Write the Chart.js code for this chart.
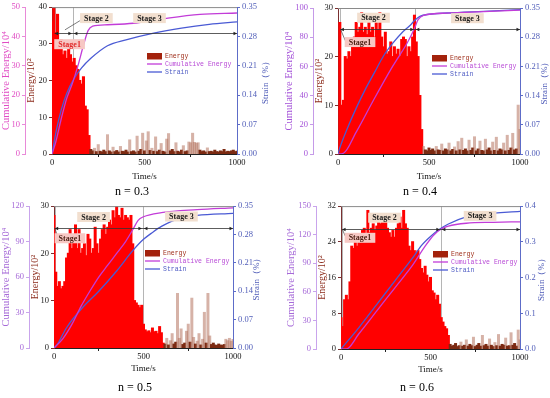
<!DOCTYPE html>
<html lang="en">
<head>
<meta charset="UTF-8">
<title>Energy, cumulative energy and strain</title>
<script src="https://cdn.jsdelivr.net/npm/chart.js"></script>
<style>
  body { margin: 0; background: #fff; }
  #wrap { position: relative; width: 550px; height: 398px; overflow: hidden; }
  .panel { position: absolute; width: 275px; height: 199px; }
  .nlab { position: absolute; font-family: 'Liberation Serif', serif; font-size: 12px; color: #000;
          transform: translate(-50%, -50%); white-space: nowrap; }
</style>
</head>
<body>
<div id="wrap">
  <div class="panel" style="left:0;top:0"><canvas id="c1" width="275" height="199"></canvas></div>
  <div class="panel" style="left:275px;top:0"><canvas id="c2" width="275" height="199"></canvas></div>
  <div class="panel" style="left:0;top:199px"><canvas id="c3" width="275" height="199"></canvas></div>
  <div class="panel" style="left:275px;top:199px"><canvas id="c4" width="275" height="199"></canvas></div>
  <div class="nlab" style="left:132px;top:191px">n = 0.3</div>
  <div class="nlab" style="left:420px;top:191px">n = 0.4</div>
  <div class="nlab" style="left:135px;top:387px">n = 0.5</div>
  <div class="nlab" style="left:417px;top:387px">n = 0.6</div>
</div>
<script>
// energy bins (s)
const binTimes = [0,10,20,30,40,50,60,70,80,90,100,110,120,130,140,150,160,170,180,190,
  200,210,220,230,240,250,260,270,280,290,300,310,320,330,340,350,360,370,380,390,
  400,410,420,430,440,450,460,470,480,490,500,510,520,530,540,550,560,570,580,590,
  600,610,620,630,640,650,660,670,680,690,700,710,720,730,740,750,760,770,780,790,
  800,810,820,830,840,850,860,870,880,890,900,910,920,930,940,950,960,970,980,990,1000];

// Energy /10^2
const energy03 = [36,40,33,38,29,31,27,28,26,29, 27,25,26,24,23,20,19,21,13,12,
  5,1.2,0.8,1.5,0.6,2.5,0.7,0.5,1.0,0.6, 5.2,0.8,0.5,1.8,0.6,0.9,0.5,2.0,0.7,0.6,
  1.0,0.5,3.8,0.6,0.8,0.5,4.8,0.7,1.2,5.6, 0.8,3.5,6.0,0.9,1.5,0.7,4.6,0.6,1.0,2.8,
  0.7,0.5,4.0,5.5,0.8,1.2,0.6,3.0,0.7,0.5, 1.0,2.2,0.6,0.8,3.2,3.0,5.6,3.1,2.9,3.0,
  1.0,0.6,0.8,0.5,1.6,0.6,0.7,0.5,1.0,0.6, 0.5,0.8,0.6,1.2,0.5,0.7,0.6,0.8,1.0,0.6, 0.7];
const energy04 = [1.5,27,10,11,20,19.5,21,20,22,24, 27,25,26,29,25,26,24.5,28,25,26,
  24,27,25.5,29,24,22,25,20.5,21,23, 20,22,20.5,21.5,20,23.5,24,23.5,20,22,
  21,24,28.5,23,20,12,5,1.5,0.8,0.6, 1.2,0.7,1.0,0.6,1.5,0.8,0.7,2.0,0.6,1.0,
  0.8,2.2,0.6,0.9,1.4,0.6,2.5,0.8,3.2,0.7, 1.0,0.6,2.8,0.7,1.2,3.5,0.6,1.0,2.6,0.7,
  0.6,3.0,0.8,1.2,0.6,2.4,0.7,3.4,0.6,1.0, 0.8,2.2,0.6,3.8,0.7,1.2,4.2,0.8,1.0,10, 5];
const energy05 = [28,16,13,14,12.5,13,14,19,20,25, 21,24,26,21,25,20,21,22,19.5,24,
  23,20,21,25.5,22,20,23,25,26,24, 25.5,27,26,29,27.5,30,28,27.5,29.5,27,
  28,27.5,27,28,22,10,9.5,9,8.5,9, 5,3.8,3.4,3.6,3.2,4.2,3.4,3.5,3.0,4.5,
  3.2,1.0,0.8,2.0,0.6,1.5,3.0,0.8,1.2,11.5, 2.0,4.0,0.7,1.0,3.5,5.0,1.2,10.5,2.2,0.8,
  1.4,3.0,0.6,1.8,7.5,1.0,11.5,2.5,0.7,1.0, 0.6,0.5,0.8,0.6,0.5,0.7,1.8,1.5,2.0,1.4, 1.8];
const energy06 = [7,5,11,12,11,15,23,22.5,24,23, 25,24,26.5,27,25,31,26,27,28,26.5,
  27.5,29,28,30,28.5,29,27,26,25,26.5, 25,27,28,29.5,27,31,28,27,23,22,
  24,22,21.5,22,20,18,17,18.5,16.5,15, 16,13,12.5,11,12,10,7,6,5,4.5,
  3,1.0,0.6,0.8,1.2,0.5,0.7,1.5,0.6,0.8, 2.0,0.6,1.0,0.7,2.6,0.5,0.8,1.2,0.6,3.0,
  0.7,1.0,0.6,2.2,0.8,0.5,1.4,0.7,3.2,0.6, 1.0,0.8,2.4,0.6,0.7,3.6,0.8,1.2,0.6,4.2, 2.0];

// Cumulative energy /10^4
const cumT03 = [0,20,50,80,110,140,170,195,220,300,440,600,800,1000];
const cum03 = [0,4,12,19,24,30,37,42,43.5,44,44.5,46,47.5,48];
const cumT04 = [0,30,100,200,300,380,420,440,470,600,800,1000];
const cum04 = [0,0.5,15,38,60,76,86,92,95,96.5,97.5,98.5];
const cumT05 = [0,50,100,150,200,250,300,350,400,440,470,500,600,800,1000];
const cum05 = [0,8,20,35,48,60,70,80,90,100,108,111,114.5,117,118.5];
const cumT06 = [0,30,100,200,300,400,470,520,560,600,700,850,1000];
const cum06 = [0,0,16,40,64,88,108,120,126,129,132,133,133.5];

// Strain (%)
const strainT03 = [0,25,50,80,120,160,210,300,400,550,700,850,1000];
const strain03 = [0,0.06,0.105,0.145,0.18,0.205,0.228,0.258,0.272,0.288,0.3,0.309,0.315];
const strainT04 = [0,10,50,100,150,200,250,300,350,400,420,450,500,600,800,1000];
const strain04 = [0,0.015,0.06,0.11,0.155,0.195,0.235,0.265,0.29,0.31,0.32,0.33,0.335,0.338,0.342,0.346];
const strainT05 = [0,20,70,150,250,350,440,500,550,600,700,800,1000];
const strain05 = [0,0.01,0.05,0.095,0.14,0.19,0.24,0.268,0.285,0.3,0.32,0.327,0.332];
const strainT06 = [0,100,200,300,400,450,500,550,600,700,800,1000];
const strain06 = [0,0.06,0.125,0.19,0.255,0.29,0.315,0.335,0.35,0.37,0.378,0.385];

// tick values
const timeTicks = [0,500,1000];
const energyTicks03 = [0,10,20,30,40];
const energyTicks04 = [0,10,20,30];
const energyTicks05 = [0,10,20,30];
const energyTicks06 = [0,8,16,24,32];
const cumTicks03 = [0,10,20,30,40,50];
const cumTicks04 = [0,20,40,60,80,100];
const cumTicks05 = [0,30,60,90,120];
const cumTicks06 = [0,30,60,90,120,150];
const strainTicks = [0,0.07,0.14,0.21,0.28,0.35];
const strainTicks06 = [0,0.1,0.2,0.3,0.4];

// stage boundaries (s)
const stages03 = [14,113];
const stages04 = [13,422];
const stages05 = [4,497];
const stages06 = [6,558];

const SERIF = 'Liberation Serif';
const cumColor = '#c23cd8';
const strainColor = '#4a5ad4';
const strainAxis = '#5d6cc8';

function pts(ts, vs) { return ts.map((t, i) => ({ x: t, y: vs[i] })); }

function arrowHead(ctx, x, y, dir) {
  ctx.beginPath();
  ctx.moveTo(x, y);
  ctx.lineTo(x - dir * 3.5, y - 1.8);
  ctx.lineTo(x - dir * 3.5, y + 1.8);
  ctx.closePath();
  ctx.fill();
}

function stageBox(ctx, cx, cy, text, bg, fg) {
  ctx.font = 'bold 8px "' + SERIF + '"';
  const w = ctx.measureText(text).width + 8, h = 10;
  ctx.fillStyle = bg;
  ctx.fillRect(cx - w / 2, cy - h / 2, w, h);
  ctx.fillStyle = fg;
  ctx.textAlign = 'center';
  ctx.textBaseline = 'middle';
  ctx.fillText(text, cx, cy + 0.5);
}

const stagePlugin = {
  id: 'stages',
  beforeDatasetsDraw(chart, args, o) {
    const { ctx, chartArea: a, scales: { x } } = chart;
    ctx.save();
    ctx.strokeStyle = '#b5b5b5';
    ctx.lineWidth = 1;
    o.bounds.forEach(t => {
      const px = Math.round(x.getPixelForValue(t)) + 0.5;
      ctx.beginPath(); ctx.moveTo(px, a.top); ctx.lineTo(px, a.bottom); ctx.stroke();
    });
    ctx.restore();
  },
  afterDatasetsDraw(chart, args, o) {
    const { ctx, chartArea: a, scales: { x, y } } = chart;
    ctx.save();
    // top frame
    ctx.strokeStyle = '#8a8a8a'; ctx.lineWidth = 1;
    ctx.beginPath(); ctx.moveTo(a.left, a.top + 0.5); ctx.lineTo(a.right, a.top + 0.5); ctx.stroke();

    // stage arrows
    const ay = Math.round(y.getPixelForValue(o.arrowE)) + 0.5;
    const xs = [o.bounds[0], o.bounds[1], x.max].map(t => x.getPixelForValue(t));
    ctx.strokeStyle = '#333'; ctx.fillStyle = '#222'; ctx.lineWidth = 0.8;
    ctx.beginPath(); ctx.moveTo(xs[0], ay); ctx.lineTo(xs[2], ay); ctx.stroke();
    arrowHead(ctx, xs[0], ay, -1);
    arrowHead(ctx, xs[1] - 1, ay, 1);
    arrowHead(ctx, xs[1] + 1, ay, -1);
    arrowHead(ctx, xs[2], ay, 1);

    // leader line
    if (o.leader) {
      ctx.strokeStyle = '#444'; ctx.lineWidth = 0.7;
      ctx.beginPath();
      ctx.moveTo(x.getPixelForValue(o.leader[0]), y.getPixelForValue(o.leader[1]));
      ctx.lineTo(x.getPixelForValue(o.leader[2]), y.getPixelForValue(o.leader[3]));
      ctx.stroke();
    }

    // stage labels
    stageBox(ctx, x.getPixelForValue(o.s1[0]), y.getPixelForValue(o.s1[1]), 'Stage1', '#f7c8c4', o.s1Color);
    stageBox(ctx, x.getPixelForValue(o.s2[0]), y.getPixelForValue(o.s2[1]), 'Stage 2', '#f2dfcf', '#1a1a1a');
    stageBox(ctx, x.getPixelForValue(o.s3[0]), y.getPixelForValue(o.s3[1]), 'Stage 3', '#f2dfcf', '#1a1a1a');

    // legend
    const L = o.legend;
    ctx.fillStyle = '#a3220c';
    ctx.fillRect(L[0], L[1] - 3, 15, 6.5);
    ctx.lineWidth = 1.3;
    ctx.strokeStyle = cumColor;
    ctx.beginPath(); ctx.moveTo(L[0], L[1] + 8); ctx.lineTo(L[0] + 15, L[1] + 8); ctx.stroke();
    ctx.strokeStyle = strainColor;
    ctx.beginPath(); ctx.moveTo(L[0], L[1] + 16); ctx.lineTo(L[0] + 15, L[1] + 16); ctx.stroke();
    ctx.font = '6.5px "Liberation Mono"';
    ctx.textAlign = 'left'; ctx.textBaseline = 'middle';
    ctx.fillStyle = '#a0301c'; ctx.fillText('Energy', L[0] + 18, L[1]);
    ctx.fillStyle = '#b84ad6'; ctx.fillText('Cumulative Energy', L[0] + 18, L[1] + 8);
    ctx.fillStyle = '#4f5cc4'; ctx.fillText('Strain', L[0] + 18, L[1] + 16);

    // right axis title (reads bottom to top)
    ctx.translate(o.strainTitleX, (a.top + a.bottom) / 2);
    ctx.rotate(-Math.PI / 2);
    ctx.font = '9px "' + SERIF + '"';
    ctx.textAlign = 'center';
    ctx.fillStyle = '#4f5cb8';
    ctx.fillText('Strain（%）', 0, 0);
    ctx.restore();
  }
};

// main burst red, tail: dark low base with pale spikes
function barColor(p) {
  return c => {
    if (!c.raw || c.raw.x <= p.massEnd) return '#ff0000';
    return c.raw.y < 1.3 ? '#7c2a12' : 'rgba(180,115,95,0.55)';
  };
}

function makePanel(p) {
  const tickFont = { family: SERIF, size: 8.5 };
  new Chart(document.getElementById(p.id), {
    type: 'bar',
    data: {
      datasets: [
        { type: 'line', label: 'Cumulative Energy', data: pts(p.cumT, p.cum), yAxisID: 'y2',
          borderColor: cumColor, borderWidth: 1.3, pointRadius: 0, cubicInterpolationMode: 'monotone', order: 1 },
        { type: 'line', label: 'Strain', data: pts(p.strainT, p.strain), yAxisID: 'y3',
          borderColor: strainColor, borderWidth: 1.3, pointRadius: 0, cubicInterpolationMode: 'monotone', order: 2 },
        { type: 'bar', label: 'Energy', data: pts(binTimes, p.energy), yAxisID: 'y',
          backgroundColor: barColor(p),
          borderWidth: 0, inflateAmount: 0.6,
          barPercentage: 1, categoryPercentage: 1, order: 3 }
      ]
    },
    options: {
      responsive: false,
      animation: false,
      devicePixelRatio: 1,
      layout: { padding: p.pad },
      plugins: {
        legend: { display: false },
        tooltip: { enabled: false },
        stages: p.stage
      },
      scales: {
        x: {
          type: 'linear', min: 0, max: 1000, offset: false,
          afterBuildTicks: s => { s.ticks = timeTicks.map(v => ({ value: v })); },
          ticks: { font: tickFont, color: '#111', padding: 1, maxRotation: 0, callback: v => String(v) },
          grid: { drawOnChartArea: false, tickLength: 3, color: '#222' },
          border: { color: '#222' },
          title: { display: true, text: 'Time/s', color: '#111', font: { family: SERIF, size: 9 }, padding: { top: 2, bottom: 2 } },
          afterFit: s => { s.height = p.xH; }
        },
        y: {
          position: 'left', weight: 0, min: 0, max: p.energyTicks[p.energyTicks.length - 1],
          afterBuildTicks: s => { s.ticks = p.energyTicks.map(v => ({ value: v })); },
          ticks: { font: tickFont, color: '#222', padding: 2 },
          grid: { drawOnChartArea: false, tickLength: 3, color: '#7a3030' },
          border: { color: '#7a3030' },
          title: { display: true, text: 'Energy/10²', color: '#8b2a1a', font: { family: SERIF, size: 10 }, padding: { top: 0, bottom: 0 } },
          afterFit: s => { s.width = p.w[1]; }
        },
        y2: {
          position: 'left', weight: 1, min: 0, max: p.cumTicks[p.cumTicks.length - 1],
          afterBuildTicks: s => { s.ticks = p.cumTicks.map(v => ({ value: v })); },
          ticks: { font: tickFont, color: p.cumAxis, padding: 2 },
          grid: { drawOnChartArea: false, tickLength: 3, color: p.cumAxisLine },
          border: { color: p.cumAxisLine },
          title: { display: true, text: 'Cumulative Energy/10⁴', color: p.cumAxis, font: { family: SERIF, size: 10.5 }, padding: { top: 0, bottom: 0 } },
          afterFit: s => { s.width = p.w[0]; }
        },
        y3: {
          position: 'right', min: 0, max: p.strainTicks[p.strainTicks.length - 1],
          afterBuildTicks: s => { s.ticks = p.strainTicks.map(v => ({ value: v })); },
          ticks: { font: tickFont, color: '#4f5cb8', padding: 2, callback: v => v.toFixed(p.strainDigits) },
          grid: { drawOnChartArea: false, tickLength: 3, color: strainAxis },
          border: { color: strainAxis },
          afterFit: s => { s.width = p.w[2]; }
        }
      }
    },
    plugins: [stagePlugin]
  });
}

makePanel({
  id: 'c1', energy: energy03, cumT: cumT03, cum: cum03, strainT: strainT03, strain: strain03,
  energyTicks: energyTicks03, cumTicks: cumTicks03, strainTicks: strainTicks, strainDigits: 2,
  massEnd: 205, cumAxis: '#e04cc4', cumAxisLine: '#e88ad8',
  pad: { left: 0, right: 0, top: 5, bottom: 15 }, w: [25, 27, 38], xH: 30,
  stage: { bounds: stages03, arrowE: 33, s1: [95, 29.9], s2: [240, 37], s3: [527, 37],
           s1Color: '#e02a2a', leader: [151, 36.3, 70, 33.8], legend: [147, 56], strainTitleX: 266 }
});
makePanel({
  id: 'c2', energy: energy04, cumT: cumT04, cum: cum04, strainT: strainT04, strain: strain04,
  energyTicks: energyTicks04, cumTicks: cumTicks04, strainTicks: strainTicks, strainDigits: 2,
  massEnd: 465, cumAxis: '#a452d8', cumAxisLine: '#c59ae8',
  pad: { left: 8, right: 0, top: 8, bottom: 15 }, w: [30, 25, 30], xH: 30,
  stage: { bounds: stages04, arrowE: 25.7, s1: [121, 23], s2: [195, 28], s3: [711, 27.9],
           s1Color: '#4a1e12', leader: [13, 25.7, 40, 23.3], legend: [157, 58], strainTitleX: 270 }
});
makePanel({
  id: 'c3', energy: energy05, cumT: cumT05, cum: cum05, strainT: strainT05, strain: strain05,
  energyTicks: energyTicks05, cumTicks: cumTicks05, strainTicks: strainTicks, strainDigits: 2,
  massEnd: 615, cumAxis: '#a66ad8', cumAxisLine: '#c9a4ec',
  pad: { left: 0, right: 0, top: 5, bottom: 22 }, w: [29, 25, 42], xH: 28,
  stage: { bounds: stages05, arrowE: 25.4, s1: [89, 23.2], s2: [221, 27.7], s3: [712, 27.8],
           s1Color: '#4a1e12', leader: [4, 25.4, 22, 23.4], legend: [145, 54], strainTitleX: 257 }
});
makePanel({
  id: 'c4', energy: energy06, cumT: cumT06, cum: cum06, strainT: strainT06, strain: strain06,
  energyTicks: energyTicks06, cumTicks: cumTicks06, strainTicks: strainTicks06, strainDigits: 1,
  massEnd: 605, cumAxis: '#a66ad8', cumAxisLine: '#c9a4ec',
  pad: { left: 10, right: 0, top: 6, bottom: 21 }, w: [31, 25, 30], xH: 28,
  stage: { bounds: stages06, arrowE: 26.9, s1: [106, 24.9], s2: [243, 29.4], s3: [777, 29.8],
           s1Color: '#4a1e12', leader: [6, 26.9, 25, 25.2], legend: [158, 55], strainTitleX: 267 }
});
</script>
</body>
</html>
